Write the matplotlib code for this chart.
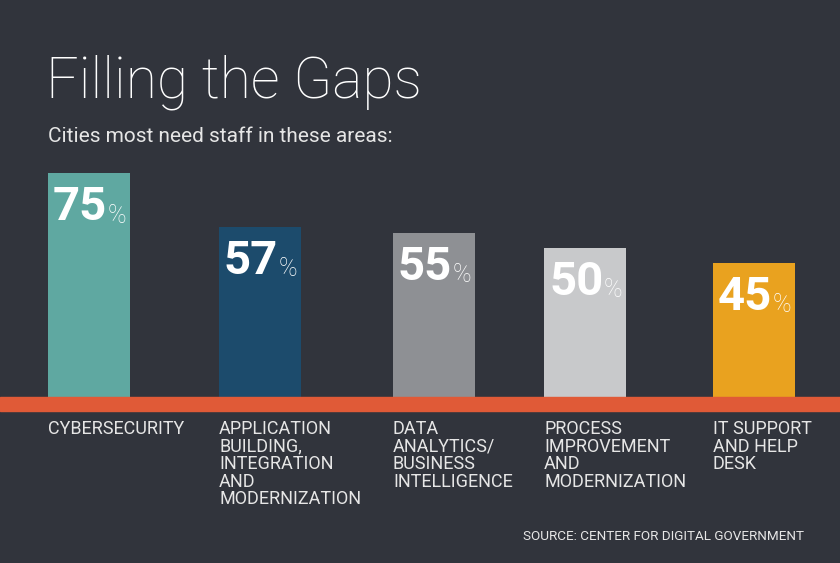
import matplotlib.pyplot as plt
from matplotlib import transforms
from matplotlib.patches import Rectangle

# data
categories = ["CYBERSECURITY",
              "APPLICATION\nBUILDING,\nINTEGRATION\nAND\nMODERNIZATION",
              "DATA\nANALYTICS/\nBUSINESS\nINTELLIGENCE",
              "PROCESS\nIMPROVEMENT\nAND\nMODERNIZATION",
              "IT SUPPORT\nAND HELP\nDESK"]
values = [75, 57, 55, 50, 45]
colors = ["#5fa8a1", "#1c4b6c", "#8e9094", "#c8c9cb", "#e9a21f"]

# layout (pixels)
bar_left = [48, 219, 393, 544, 713]
bar_w = 82
W, H = 840, 563
base_px = 397
top_px = 173

bg = "#31343c"
plt.rcParams['font.family'] = ['Roboto', 'DejaVu Sans']

fig = plt.figure(figsize=(W / 100, H / 100), dpi=100, facecolor=bg)
ax = fig.add_axes([0, (H - base_px) / H, 1, (base_px - top_px) / H])
ax.set_facecolor(bg)
ax.set_xlim(0, W)
ax.set_ylim(0, max(values))
ax.axis('off')

xs = [l + bar_w / 2 for l in bar_left]
ax.bar(xs, values, width=bar_w, color=colors, clip_on=False)

for x, v in zip(bar_left, values):
    tr = transforms.offset_copy(ax.transData, fig=fig, x=5, y=-47, units='dots')
    num = ax.text(x, v, str(v), transform=tr, ha='left', va='baseline',
                  fontsize=34, fontweight='bold', color='white')
    ax.annotate('%', xy=(1, 0), xycoords=num, xytext=(0, 1),
                textcoords='offset points', ha='left', va='bottom',
                fontsize=18, fontweight='light', color='white')

# red baseline band
fig.add_artist(Rectangle((0, (H - 411) / H), 1, 14 / H, transform=fig.transFigure,
                         color="#e05a37", zorder=5))

for x, lab in zip(bar_left, categories):
    fig.text(x / W, (H - 420) / H, lab, ha='left', va='top', fontsize=13,
             color='#e6e6e6', linespacing=0.97)

fig.text(46 / W, (H - 97) / H, "Filling the Gaps", ha='left', va='baseline',
         fontsize=41, fontweight='light', color='white')
fig.text(48 / W, (H - 142) / H, "Cities most need staff in these areas:",
         ha='left', va='baseline', fontsize=15, color='#e6e6e6')
fig.text(804 / W, (H - 537) / H, "SOURCE: CENTER FOR DIGITAL GOVERNMENT",
         ha='right', va='center', fontsize=9.7, color='#e6e6e6')

fig.savefig("out.png", dpi=100, facecolor=bg)
